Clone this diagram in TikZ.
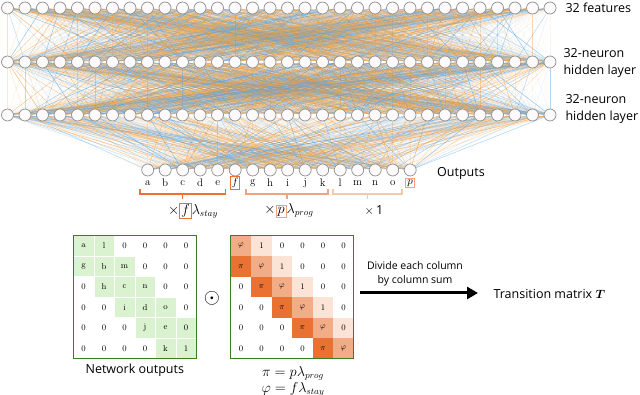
\documentclass[tikz,border=0pt]{standalone}
\usepackage{fontspec}
\usepackage{amsmath}
\usepackage{tikz}
\usetikzlibrary{positioning, arrows.meta, backgrounds}
\newfontfamily\labelfont{Open Sans}
\definecolor{nodeLine}{HTML}{8E8E8E}
\definecolor{nodeFill}{HTML}{FCFAFA}
\definecolor{wireOrg}{HTML}{F29A36}
\definecolor{wireBlu}{HTML}{58A4E4}
\definecolor{accOrg}{HTML}{E97132}
\definecolor{midOrg}{HTML}{F2AC86}
\definecolor{paleOrg}{HTML}{FBE3D6}
\definecolor{brOrgB}{HTML}{F1A47C}
\definecolor{brOrgC}{HTML}{F7C8AC}
\definecolor{cellGrn}{HTML}{DAF2D0}
\definecolor{frameGrn}{HTML}{3B7D23}

\tikzset{
  neuron/.style={circle, draw=nodeLine, fill=nodeFill, line width=0.7pt, minimum size=12pt, inner sep=0pt},
  outlbl/.style={font=\rmfamily\fontsize{11}{12}\selectfont, inner sep=1.5pt},
  boxf/.style={outlbl, draw=accOrg, line width=1pt},
  boxp/.style={outlbl, draw=brOrgB, line width=1pt},
  cell/.style={font=\rmfamily\fontsize{8.5}{10}\selectfont, inner sep=0pt},
  mathlbl/.style={font=\rmfamily\fontsize{13.5}{15}\selectfont, inner sep=0pt},
}

\begin{document}
\begin{tikzpicture}[x=1pt, y=-1pt, font=\labelfont\fontsize{12.5}{17}\selectfont]
  \useasboundingbox (0,0) rectangle (640,395);
  \foreach \i in {0,...,31} {
    \node[neuron] (n1-\i) at (7.5+17.5*\i,8) {};
    \node[neuron] (n2-\i) at (7.5+17.5*\i,62) {};
    \node[neuron] (n3-\i) at (7.5+17.5*\i,115) {};
  }
  \foreach \i in {0,...,15}
    \node[neuron] (o-\i) at (147.7+17.5*\i,170) {};
  \begin{scope}[on background layer]
    \pgfmathsetseed{4213}
    \foreach \a/\b/\n in {n1/n2/31, n2/n3/31, n3/o/15}
      \foreach \i in {0,...,31}
        \foreach \j in {0,...,\n} {
          \pgfmathtruncatemacro\hue{rnd<0.56}
          \pgfmathsetmacro\op{round(100*(0.05+0.55*rnd^2.5))/100}
          \ifnum\hue=1 \def\wirecol{wireOrg}\else\def\wirecol{wireBlu}\fi
          \draw[color=\wirecol, opacity=\op, line width=0.6pt] (\a-\i) -- (\b-\j);
        }
  \end{scope}

  \node[anchor=west] (feat) at (562,8) {32 features};
  \node[anchor=west, align=left] (hid1) at (560,63) {32-neuron\\hidden layer};
  \node[anchor=west, align=left] (hid2) at (562,109) {32-neuron\\hidden layer};
  \node (outs) at (461,173) {Outputs};

  \foreach \i/\t/\sty in {0/a/outlbl, 1/b/outlbl, 2/c/outlbl, 3/d/outlbl, 4/e/outlbl,
    5/{$f$}/boxf, 6/g/outlbl, 7/h/outlbl, 8/i/outlbl, 9/j/outlbl, 10/k/outlbl,
    11/l/outlbl, 12/m/outlbl, 13/n/outlbl, 14/o/outlbl, 15/{$p$}/boxp}
    \node[\sty] (l-\i) at (147.7+17.5*\i,183) {\t};

  \foreach \x/\y/\col/\nm in {140/225.5/accOrg/brA, 246/328/brOrgB/brB, 333/402/brOrgC/brC} {
    \draw[color=\col, line width=1.2pt] (\x,189) -- (\x,194) -- (\y,194) -- (\y,189);
    \coordinate (\nm) at ({(\x+\y)/2},194);
    \draw[color=\col, line width=1.2pt] (\nm) -- ++(0,5);
  }
  \setlength{\fboxsep}{1pt}\setlength{\fboxrule}{1pt}
  \node[mathlbl] (facA) at (193,211) {$\times$\fcolorbox{accOrg}{white}{$f$}$\lambda_{stay}$};
  \node[mathlbl] (facB) at (289,211) {$\times$\fcolorbox{brOrgB}{white}{$p$}$\lambda_{prog}$};
  \node (facC) at (374,211) {$\times$\,1};

  \foreach \r/\row in {0/{a,l,0,0,0,0}, 1/{g,b,m,0,0,0}, 2/{0,h,c,n,0,0},
    3/{0,0,i,d,o,0}, 4/{0,0,0,j,e,0}, 5/{0,0,0,0,k,1}}
    \foreach \v [count=\c from 0] in \row {
      \pgfmathtruncatemacro\dd{abs(\r-\c)}
      \ifnum\dd<2 \fill[cellGrn, draw=white, line width=0.4pt] (73.3+20.5*\c,235.7+20.5*\r) rectangle ++(20.5,20.5); \fi
      \node[cell] (L-\r-\c) at (83.55+20.5*\c,245.95+20.5*\r) {\v};
    }
  \draw[frameGrn, line width=1.1pt] (73.3,235.7) rectangle ++(123,123);
  \node (netout) at (134.8,370) {Network outputs};

  \node[font=\fontsize{22}{22}\selectfont] (had) at (212,298) {$\odot$};

  \foreach \r/\row in {0/{$\varphi$,1,0,0,0,0}, 1/{$\pi$,$\varphi$,1,0,0,0},
    2/{0,$\pi$,$\varphi$,1,0,0}, 3/{0,0,$\pi$,$\varphi$,1,0},
    4/{0,0,0,$\pi$,$\varphi$,0}, 5/{0,0,0,0,$\pi$,$\varphi$}}
    \foreach \v [count=\c from 0] in \row {
      \pgfmathtruncatemacro\dd{\r-\c+1}
      \ifcase\dd
        \fill[paleOrg] (230.7+20.5*\c,235.7+20.5*\r) rectangle ++(20.5,20.5);
      \or
        \fill[midOrg] (230.7+20.5*\c,235.7+20.5*\r) rectangle ++(20.5,20.5);
      \or
        \fill[accOrg] (230.7+20.5*\c,235.7+20.5*\r) rectangle ++(20.5,20.5);
      \fi
      \node[cell] (R-\r-\c) at (240.95+20.5*\c,245.95+20.5*\r) {\v};
    }
  \draw[frameGrn, line width=1.1pt] (230.7,235.7) rectangle ++(123,123);
  \node[mathlbl] (pidef) at (293,373) {$\pi = p\lambda_{prog}$};
  \node[mathlbl] (phidef) at (293,389) {$\varphi = f\lambda_{stay}$};

  \node[font=\labelfont\fontsize{10.5}{14}\selectfont, align=center] (divlbl) at (415,274) {Divide each column\\by column sum};
  \coordinate (arrS) at (360,293);
  \node[anchor=west] (tmat) at (490,294) {Transition matrix $\boldsymbol{T}$};
  \draw[-{Triangle[length=11pt,width=12pt]}, line width=3pt, shorten >=12pt] (arrS) -- (tmat.west |- arrS);
\end{tikzpicture}
\end{document}
